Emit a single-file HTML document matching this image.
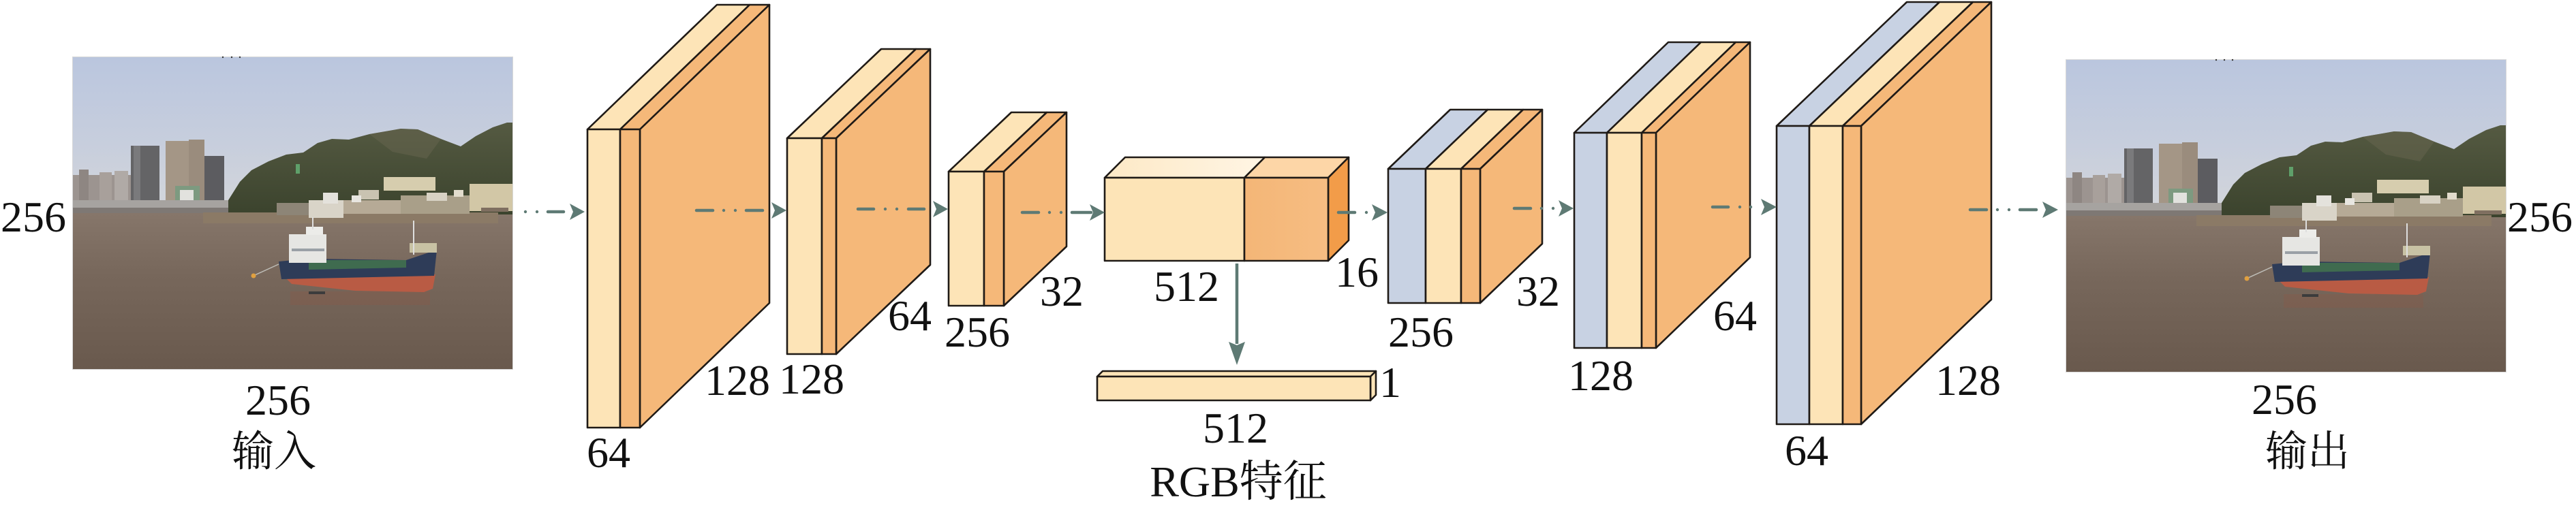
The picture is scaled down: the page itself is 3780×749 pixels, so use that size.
<!DOCTYPE html>
<html>
<head>
<meta charset="utf-8">
<style>
html,body{margin:0;padding:0;background:#ffffff;}
svg{display:block;}
text{font-family:"Liberation Serif","Noto Serif CJK SC","Noto Sans CJK SC",serif;fill:#111;}
</style>
</head>
<body>
<svg xmlns="http://www.w3.org/2000/svg" width="3780" height="749" viewBox="0 0 3780 749">
<defs>
  <linearGradient id="sky" x1="0" y1="0" x2="0" y2="1">
    <stop offset="0" stop-color="#bac6de"/>
    <stop offset="0.55" stop-color="#c7cedd"/>
    <stop offset="1" stop-color="#d4d6da"/>
  </linearGradient>
  <linearGradient id="water" x1="0" y1="0" x2="0" y2="1">
    <stop offset="0" stop-color="#86766a"/>
    <stop offset="0.4" stop-color="#77675b"/>
    <stop offset="1" stop-color="#69594d"/>
  </linearGradient>
  <linearGradient id="hill" x1="0" y1="0" x2="0" y2="1">
    <stop offset="0" stop-color="#555a42"/>
    <stop offset="1" stop-color="#3b432d"/>
  </linearGradient>
  <linearGradient id="b4top" x1="0" y1="0" x2="1" y2="0">
    <stop offset="0" stop-color="#fde9c6"/>
    <stop offset="1" stop-color="#fff5e4"/>
  </linearGradient>
  <linearGradient id="b4front" x1="0" y1="0" x2="1" y2="0">
    <stop offset="0" stop-color="#f4b677"/>
    <stop offset="1" stop-color="#f6bd82"/>
  </linearGradient>
  <clipPath id="pclip"><rect x="0" y="0" width="647" height="460"/></clipPath>
  <g id="photo">
    <g clip-path="url(#pclip)">
      <rect x="0" y="0" width="647" height="232" fill="url(#sky)"/>
      <rect x="0" y="230" width="647" height="230" fill="url(#water)"/>
      <!-- left city -->
      <rect x="0" y="174" width="86" height="40" fill="#9c9490"/>
      <rect x="10" y="166" width="14" height="48" fill="#8e8682"/>
      <rect x="40" y="170" width="18" height="44" fill="#a8a09b"/>
      <rect x="62" y="168" width="20" height="46" fill="#b0aaa6"/>
      <!-- towers -->
      <rect x="86" y="131" width="42" height="82" fill="#646466"/>
      <rect x="90" y="131" width="10" height="82" fill="#7a7a7c"/>
      <rect x="137" y="124" width="34" height="89" fill="#a49686"/>
      <rect x="171" y="122" width="23" height="91" fill="#9a8c7d"/>
      <rect x="194" y="146" width="29" height="67" fill="#5c5c60"/>
      <rect x="151" y="190" width="36" height="24" fill="#7d9a80"/>
      <rect x="158" y="196" width="20" height="26" fill="#e2e2de"/>
      <!-- hill -->
      <polygon fill="url(#hill)" points="229,211 246,184 263,167 288,154 314,144 339,141 360,127 381,121 406,122 436,114 465,109 482,106 507,107 541,121 570,132 592,117 617,104 638,97 647,97 647,232 229,232"/>
      <polygon fill="#67664f" opacity="0.5" points="436,114 465,109 482,106 507,107 541,121 520,150 470,140"/>
      <rect x="328" y="158" width="6" height="14" fill="#5fa06a"/>
      <!-- shore band -->
      <rect x="0" y="211" width="229" height="18" fill="#a6a3a0"/>
      <rect x="0" y="222" width="229" height="8" fill="#7e7874"/>
      <rect x="192" y="229" width="433" height="16" fill="#8b7a66"/>
      <!-- village -->
      <rect x="347" y="211" width="51" height="26" fill="#d9d4c8"/>
      <rect x="368" y="200" width="22" height="16" fill="#e4e2dc"/>
      <rect x="457" y="177" width="76" height="20" fill="#d6cdae"/>
      <rect x="583" y="187" width="64" height="40" fill="#d2c7a6"/>
      <rect x="398" y="211" width="84" height="20" fill="#b6aa96"/>
      <rect x="482" y="204" width="101" height="27" fill="#a99f89"/>
      <rect x="300" y="215" width="47" height="18" fill="#8d8577"/>
      <rect x="420" y="196" width="30" height="14" fill="#c9c3b1"/>
      <rect x="520" y="200" width="30" height="12" fill="#d8d2c4"/>
      <rect x="410" y="204" width="14" height="10" fill="#e8e6e0"/>
      <rect x="560" y="196" width="14" height="10" fill="#e2dccd"/>
      <rect x="600" y="222" width="40" height="6" fill="#7f6f60"/>
      <!-- ship reflection -->
      <rect x="320" y="345" width="205" height="20" fill="#8a5a48" opacity="0.35"/>
      <!-- ship -->
      <polygon fill="#b95b44" points="314,326 533,320 529,341 516,346 415,344 322,334"/>
      <polygon fill="#2e3c58" points="303,301 347,297 490,299 535,284 531,322 307,327"/>
      <polygon fill="#3f6b4f" points="347,299 490,299 490,310 347,313"/>
      <rect x="318" y="261" width="55" height="42" fill="#e6e6e3"/>
      <rect x="343" y="250" width="25" height="12" fill="#ecece9"/>
      <rect x="322" y="282" width="48" height="4" fill="#9aa0a6"/>
      <rect x="495" y="274" width="40" height="14" fill="#c8c2a4"/>
      <rect x="500" y="241" width="2" height="50" fill="#dedede"/>
      <rect x="352" y="236" width="2" height="18" fill="#dedede"/>
      <line x1="268" y1="321" x2="303" y2="305" stroke="#bdbcb6" stroke-width="1.5"/>
      <circle cx="266" cy="322" r="3.5" fill="#e0a040"/>
      <rect x="347" y="345" width="24" height="4" fill="#3c3c3c"/>
    </g>
    <rect x="0.5" y="0.5" width="646" height="459" fill="none" stroke="#d8d8d8" stroke-width="1"/>
  </g>
</defs>

<!-- photos -->
<use href="#photo" x="106" y="83"/>
<use href="#photo" x="3031" y="87"/>
<circle cx="327" cy="84" r="1.2" fill="#333"/><circle cx="340" cy="84" r="1.2" fill="#333"/><circle cx="352" cy="84" r="1.2" fill="#333"/>
<circle cx="3252" cy="88" r="1.2" fill="#333"/><circle cx="3264" cy="88" r="1.2" fill="#333"/><circle cx="3276" cy="88" r="1.2" fill="#333"/>

<g stroke="#1f1a16" stroke-width="2.6" stroke-linejoin="round">
  <!-- Block 1 -->
  <polygon fill="#fde4b7" points="862,190 910,190 1100,7 1052,7"/>
  <polygon fill="#f5b879" points="910,190 939,190 1129,7 1100,7"/>
  <polygon fill="#f5b879" points="939,190 1129,7 1129,445 939,628"/>
  <rect x="862" y="190" width="48" height="438" fill="#fde4b7"/>
  <rect x="910" y="190" width="29" height="438" fill="#f5b879"/>

  <!-- Block 2 -->
  <polygon fill="#fde4b7" points="1155,203 1206,203 1344,72 1293,72"/>
  <polygon fill="#f5b879" points="1206,203 1227,203 1365,72 1344,72"/>
  <polygon fill="#f5b879" points="1227,203 1365,72 1365,389 1227,520"/>
  <rect x="1155" y="203" width="51" height="317" fill="#fde4b7"/>
  <rect x="1206" y="203" width="21" height="317" fill="#f5b879"/>

  <!-- Block 3 -->
  <polygon fill="#fde4b7" points="1392,252 1444,252 1536,165 1484,165"/>
  <polygon fill="#f5b879" points="1444,252 1473,252 1565,165 1536,165"/>
  <polygon fill="#f5b879" points="1473,252 1565,165 1565,362 1473,449"/>
  <rect x="1392" y="252" width="52" height="197" fill="#fde4b7"/>
  <rect x="1444" y="252" width="29" height="197" fill="#f5b879"/>

  <!-- Block 4 bottleneck -->
  <polygon fill="url(#b4top)" points="1621,261 1826,261 1856,231 1651,231"/>
  <polygon fill="#fdd6a7" points="1826,261 1949,261 1979,231 1856,231"/>
  <polygon fill="#f29c49" points="1949,261 1979,231 1979,353 1949,383"/>
  <rect x="1621" y="261" width="205" height="122" fill="#fde4b7"/>
  <rect x="1826" y="261" width="123" height="122" fill="url(#b4front)"/>

  <!-- RGB feature bar -->
  <polygon fill="#fde4b7" points="1610,553 2011,553 2019,545 1618,545"/>
  <polygon fill="#fde4b7" points="2011,553 2019,545 2019,580 2011,588"/>
  <rect x="1610" y="553" width="401" height="35" fill="#fde4b7"/>

  <!-- Block 5 -->
  <polygon fill="#c8d2e3" points="2037,248 2092,248 2183,161 2128,161"/>
  <polygon fill="#fde4b7" points="2092,248 2144,248 2235,161 2183,161"/>
  <polygon fill="#f5b879" points="2144,248 2172,248 2263,161 2235,161"/>
  <polygon fill="#f5b879" points="2172,248 2263,161 2263,358 2172,445"/>
  <rect x="2037" y="248" width="55" height="197" fill="#c8d2e3"/>
  <rect x="2092" y="248" width="52" height="197" fill="#fde4b7"/>
  <rect x="2144" y="248" width="28" height="197" fill="#f5b879"/>

  <!-- Block 6 -->
  <polygon fill="#c8d2e3" points="2310,195 2358,195 2496,62 2448,62"/>
  <polygon fill="#fde4b7" points="2358,195 2409,195 2547,62 2496,62"/>
  <polygon fill="#f5b879" points="2409,195 2430,195 2568,62 2547,62"/>
  <polygon fill="#f5b879" points="2430,195 2568,62 2568,378 2430,511"/>
  <rect x="2310" y="195" width="48" height="316" fill="#c8d2e3"/>
  <rect x="2358" y="195" width="51" height="316" fill="#fde4b7"/>
  <rect x="2409" y="195" width="21" height="316" fill="#f5b879"/>

  <!-- Block 7 -->
  <polygon fill="#c8d2e3" points="2607,185 2655,185 2846,3 2798,3"/>
  <polygon fill="#fde4b7" points="2655,185 2704,185 2895,3 2846,3"/>
  <polygon fill="#f5b879" points="2704,185 2731,185 2922,3 2895,3"/>
  <polygon fill="#f5b879" points="2731,185 2922,3 2922,440 2731,623"/>
  <rect x="2607" y="185" width="48" height="438" fill="#c8d2e3"/>
  <rect x="2655" y="185" width="49" height="438" fill="#fde4b7"/>
  <rect x="2704" y="185" width="27" height="438" fill="#f5b879"/>
</g>

<!-- dash-dot arrows -->
<g stroke="#5e7a74" stroke-width="4.5" stroke-linecap="round" fill="none">
  <line x1="804" y1="311" x2="827" y2="311"/>
  <line x1="1022" y1="309" x2="1046" y2="309"/>
  <line x1="1095" y1="309" x2="1119" y2="309"/>
  <line x1="1259" y1="307" x2="1282" y2="307"/>
  <line x1="1333" y1="307" x2="1356" y2="307"/>
  <line x1="1500" y1="312" x2="1524" y2="312"/>
  <line x1="1573" y1="312" x2="1601" y2="312"/>
  <line x1="1964" y1="312" x2="1988" y2="312"/>
  <line x1="2222" y1="306" x2="2246" y2="306"/>
  <line x1="2513" y1="304" x2="2536" y2="304"/>
  <line x1="2891" y1="308" x2="2915" y2="308"/>
  <line x1="2964" y1="308" x2="2988" y2="308"/>
  <line x1="1815" y1="387" x2="1815" y2="505" stroke-linecap="butt"/>
</g>
<g fill="#5e7a74">
  <circle cx="771" cy="311" r="2.2"/><circle cx="788" cy="311" r="2.2"/>
  <circle cx="1062" cy="309" r="2.2"/><circle cx="1079" cy="309" r="2.2"/>
  <circle cx="1299" cy="307" r="2.2"/><circle cx="1316" cy="307" r="2.2"/>
  <circle cx="1540" cy="312" r="2.2"/><circle cx="1557" cy="312" r="2.2"/>
  <circle cx="2005" cy="312" r="2.2"/>
  <circle cx="2262" cy="306" r="2.2"/><circle cx="2279" cy="306" r="2.2"/>
  <circle cx="2553" cy="304" r="2.2"/><circle cx="2569" cy="304" r="2.2"/>
  <circle cx="2931" cy="308" r="2.2"/><circle cx="2948" cy="308" r="2.2"/>
  <path d="M858,311 L836,299 L841,311 L836,323 Z"/>
  <path d="M1154,309 L1132,297 L1137,309 L1132,321 Z"/>
  <path d="M1391,307 L1369,295 L1374,307 L1369,319 Z"/>
  <path d="M1621,312 L1599,300 L1604,312 L1599,324 Z"/>
  <path d="M2036,312 L2013,300 L2018,312 L2013,324 Z"/>
  <path d="M2309,306 L2287,294 L2292,306 L2287,318 Z"/>
  <path d="M2607,304 L2584,292 L2589,304 L2584,316 Z"/>
  <path d="M3020,308 L2997,296 L3002,308 L2997,320 Z"/>
  <path d="M1815,536 L1803,502 L1815,507 L1827,502 Z"/>
</g>

<!-- labels -->
<g font-size="64" text-anchor="middle" font-family="'Liberation Serif','Noto Serif CJK SC',serif" fill="#111">
  <text x="49" y="340">256</text>
  <text x="408" y="609">256</text>
  <text x="402" y="684" font-size="62">输入</text>
  <text x="893" y="686">64</text>
  <text x="1082" y="580">128</text>
  <text x="1191" y="578">128</text>
  <text x="1335" y="485">64</text>
  <text x="1434" y="509">256</text>
  <text x="1558" y="449">32</text>
  <text x="1741" y="442">512</text>
  <text x="1991" y="421">16</text>
  <text x="2040" y="583">1</text>
  <text x="1813" y="650">512</text>
  <text x="1817" y="729">RGB特征</text>
  <text x="2085" y="509">256</text>
  <text x="2257" y="449">32</text>
  <text x="2349" y="573">128</text>
  <text x="2546" y="485">64</text>
  <text x="2651" y="683">64</text>
  <text x="2888" y="580">128</text>
  <text x="3727" y="340">256</text>
  <text x="3352" y="608">256</text>
  <text x="3386" y="684" font-size="62">输出</text>
</g>
</svg>
</body>
</html>
